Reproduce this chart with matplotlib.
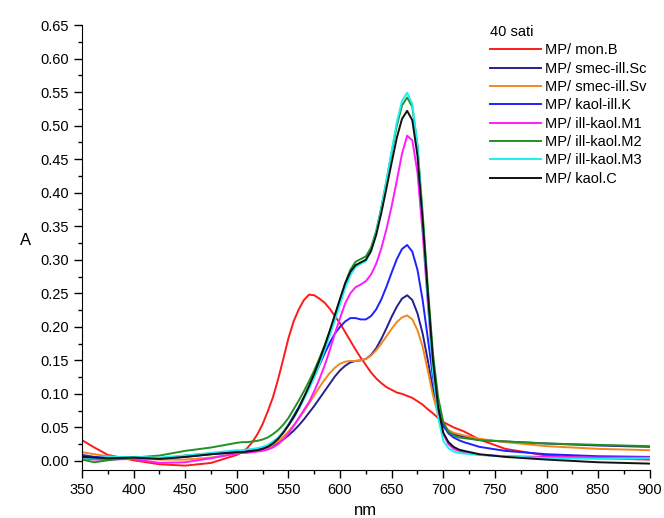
import matplotlib
matplotlib.use('Agg')
import matplotlib.pyplot as plt
from matplotlib.ticker import MultipleLocator, FormatStrFormatter

plt.rcParams['font.family'] = ['Liberation Sans', 'DejaVu Sans']

# wavelength grid (nm): coarse at the ends, 5 nm steps across the bands
nm = [350, 362, 375, 400, 425, 450, 475] + list(range(500, 721, 5)) + [735, 760, 800, 850, 900]

mon_B = [0.031, 0.020, 0.009, 0.001, -0.005, -0.007, -0.003,
         0.009, 0.013, 0.019, 0.028, 0.040,
         0.055, 0.074, 0.095, 0.122, 0.152,
         0.183, 0.208, 0.226, 0.240, 0.248,
         0.247, 0.242, 0.236, 0.227, 0.216,
         0.205, 0.192, 0.179, 0.166, 0.154,
         0.143, 0.132, 0.123, 0.116, 0.110,
         0.106, 0.102, 0.100, 0.097, 0.094,
         0.089, 0.084, 0.077, 0.071, 0.064,
         0.058, 0.054, 0.050, 0.047, 0.044,
         0.032, 0.018, 0.008, 0.004, 0.002]
smec_ill_Sc = [0.007, 0.005, 0.004, 0.004, 0.003, 0.008, 0.011,
               0.013, 0.014, 0.015, 0.016, 0.017,
               0.018, 0.020, 0.023, 0.027, 0.032,
               0.038, 0.045, 0.053, 0.062, 0.072,
               0.082, 0.093, 0.104, 0.115, 0.126,
               0.135, 0.142, 0.147, 0.149, 0.150,
               0.152, 0.158, 0.168, 0.182, 0.198,
               0.215, 0.230, 0.242, 0.247, 0.240,
               0.220, 0.190, 0.150, 0.107, 0.072,
               0.052, 0.044, 0.040, 0.038, 0.036,
               0.031, 0.029, 0.026, 0.023, 0.021]
smec_ill_Sv = [0.013, 0.010, 0.007, 0.004, 0.002, 0.002, 0.005,
               0.011, 0.012, 0.013, 0.014, 0.015,
               0.017, 0.020, 0.024, 0.029, 0.036,
               0.044, 0.053, 0.063, 0.074, 0.086,
               0.098, 0.110, 0.121, 0.131, 0.139,
               0.145, 0.148, 0.149, 0.149, 0.150,
               0.152, 0.157, 0.165, 0.175, 0.186,
               0.197, 0.207, 0.214, 0.217, 0.211,
               0.195, 0.170, 0.135, 0.098, 0.068,
               0.052, 0.046, 0.042, 0.040, 0.038,
               0.033, 0.028, 0.022, 0.018, 0.016]
kaol_ill_K = [0.009, 0.006, 0.005, 0.005, 0.004, 0.006, 0.010,
              0.013, 0.014, 0.015, 0.016, 0.017,
              0.019, 0.022, 0.027, 0.034, 0.043,
              0.054, 0.067, 0.080, 0.095, 0.110,
              0.126, 0.143, 0.160, 0.176, 0.190,
              0.200, 0.208, 0.213, 0.213, 0.211,
              0.211, 0.216, 0.226, 0.241, 0.260,
              0.281, 0.301, 0.316, 0.322, 0.312,
              0.285, 0.240, 0.183, 0.125, 0.080,
              0.053, 0.041, 0.035, 0.031, 0.028,
              0.021, 0.015, 0.010, 0.007, 0.006]
ill_kaol_M1 = [0.004, 0.002, 0.002, 0.003, -0.003, -0.002, 0.004,
               0.011, 0.012, 0.012, 0.013, 0.014,
               0.015, 0.017, 0.020, 0.025, 0.032,
               0.041, 0.052, 0.064, 0.076, 0.088,
               0.104, 0.122, 0.142, 0.165, 0.190,
               0.213, 0.235, 0.250, 0.259, 0.263,
               0.268, 0.278, 0.294, 0.317, 0.346,
               0.380, 0.418, 0.458, 0.485, 0.478,
               0.430, 0.340, 0.235, 0.140, 0.075,
               0.040, 0.025, 0.018, 0.015, 0.013,
               0.009, 0.007, 0.006, 0.005, 0.005]
ill_kaol_M2 = [0.002, -0.002, 0.001, 0.005, 0.008, 0.015, 0.020,
               0.027, 0.028, 0.028, 0.029, 0.030,
               0.032, 0.035, 0.040, 0.046, 0.054,
               0.064, 0.077, 0.090, 0.104, 0.119,
               0.135, 0.153, 0.172, 0.193, 0.215,
               0.240, 0.265, 0.285, 0.297, 0.301,
               0.305, 0.318, 0.343, 0.378, 0.418,
               0.460, 0.500, 0.530, 0.542, 0.528,
               0.470, 0.370, 0.260, 0.160, 0.095,
               0.058, 0.044, 0.038, 0.035, 0.034,
               0.031, 0.029, 0.026, 0.024, 0.022]
ill_kaol_M3 = [0.005, 0.004, 0.006, 0.006, 0.005, 0.008, 0.012,
               0.016, 0.016, 0.017, 0.018, 0.019,
               0.021, 0.024, 0.029, 0.035, 0.043,
               0.053, 0.064, 0.077, 0.092, 0.108,
               0.125, 0.144, 0.165, 0.187, 0.210,
               0.234, 0.258, 0.277, 0.289, 0.294,
               0.298, 0.313, 0.340, 0.376, 0.418,
               0.462, 0.505, 0.537, 0.549, 0.532,
               0.470, 0.360, 0.240, 0.135, 0.065,
               0.030, 0.019, 0.014, 0.012, 0.011,
               0.009, 0.007, 0.004, 0.003, 0.004]
kaol_C = [0.006, 0.005, 0.004, 0.005, 0.003, 0.006, 0.010,
          0.013, 0.013, 0.014, 0.015, 0.016,
          0.018, 0.021, 0.026, 0.033, 0.042,
          0.053, 0.065, 0.079, 0.095, 0.112,
          0.130, 0.150, 0.171, 0.194, 0.218,
          0.242, 0.265, 0.282, 0.292, 0.296,
          0.300, 0.313, 0.337, 0.370, 0.407,
          0.445, 0.482, 0.510, 0.522, 0.508,
          0.455, 0.360, 0.250, 0.150, 0.080,
          0.042, 0.028, 0.021, 0.017, 0.015,
          0.010, 0.006, 0.002, -0.002, -0.004]

series = [
    ('MP/ mon.B', mon_B, '#ff1a1a'),
    ('MP/ smec-ill.Sc', smec_ill_Sc, '#22228c'),
    ('MP/ smec-ill.Sv', smec_ill_Sv, '#f5861f'),
    ('MP/ kaol-ill.K', kaol_ill_K, '#1f1fff'),
    ('MP/ ill-kaol.M1', ill_kaol_M1, '#ff1aff'),
    ('MP/ ill-kaol.M2', ill_kaol_M2, '#239023'),
    ('MP/ ill-kaol.M3', ill_kaol_M3, '#1af0f0'),
    ('MP/ kaol.C', kaol_C, '#111111'),
]

fig = plt.figure(figsize=(6.64, 5.18), dpi=100)
ax = fig.add_axes([0.1235, 0.0927, 0.855, 0.859])

for label, vals, col in series:
    ax.plot(nm, vals, color=col, linewidth=1.4, label=label)

ax.set_xlim(350, 900)
ax.set_ylim(-0.0135, 0.65)
ax.xaxis.set_major_locator(MultipleLocator(50))
ax.xaxis.set_minor_locator(MultipleLocator(25))
ax.set_yticks([i * 0.05 for i in range(14)])
ax.yaxis.set_minor_locator(MultipleLocator(0.025))
ax.yaxis.set_major_formatter(FormatStrFormatter('%.2f'))
ax.tick_params(which='major', direction='out', length=6, width=1, labelsize=10.5)
ax.tick_params(which='minor', direction='out', length=3, width=1)
ax.spines['top'].set_visible(False)
ax.spines['right'].set_visible(False)

ax.set_xlabel('nm', fontsize=12, labelpad=4)
ax.set_ylabel('A', fontsize=12, rotation=0)
ax.yaxis.set_label_coords(-0.1, 0.5)

leg = ax.legend(loc='upper left', bbox_to_anchor=(0.738, 0.952),
                bbox_transform=fig.transFigure, frameon=False, fontsize=10.5,
                title='40 sati', title_fontsize=10.5, handlelength=3.5,
                handletextpad=0.3, labelspacing=0.3, borderaxespad=0,
                borderpad=0)
leg._legend_box.align = 'left'

fig.savefig('out.png', dpi=100)
